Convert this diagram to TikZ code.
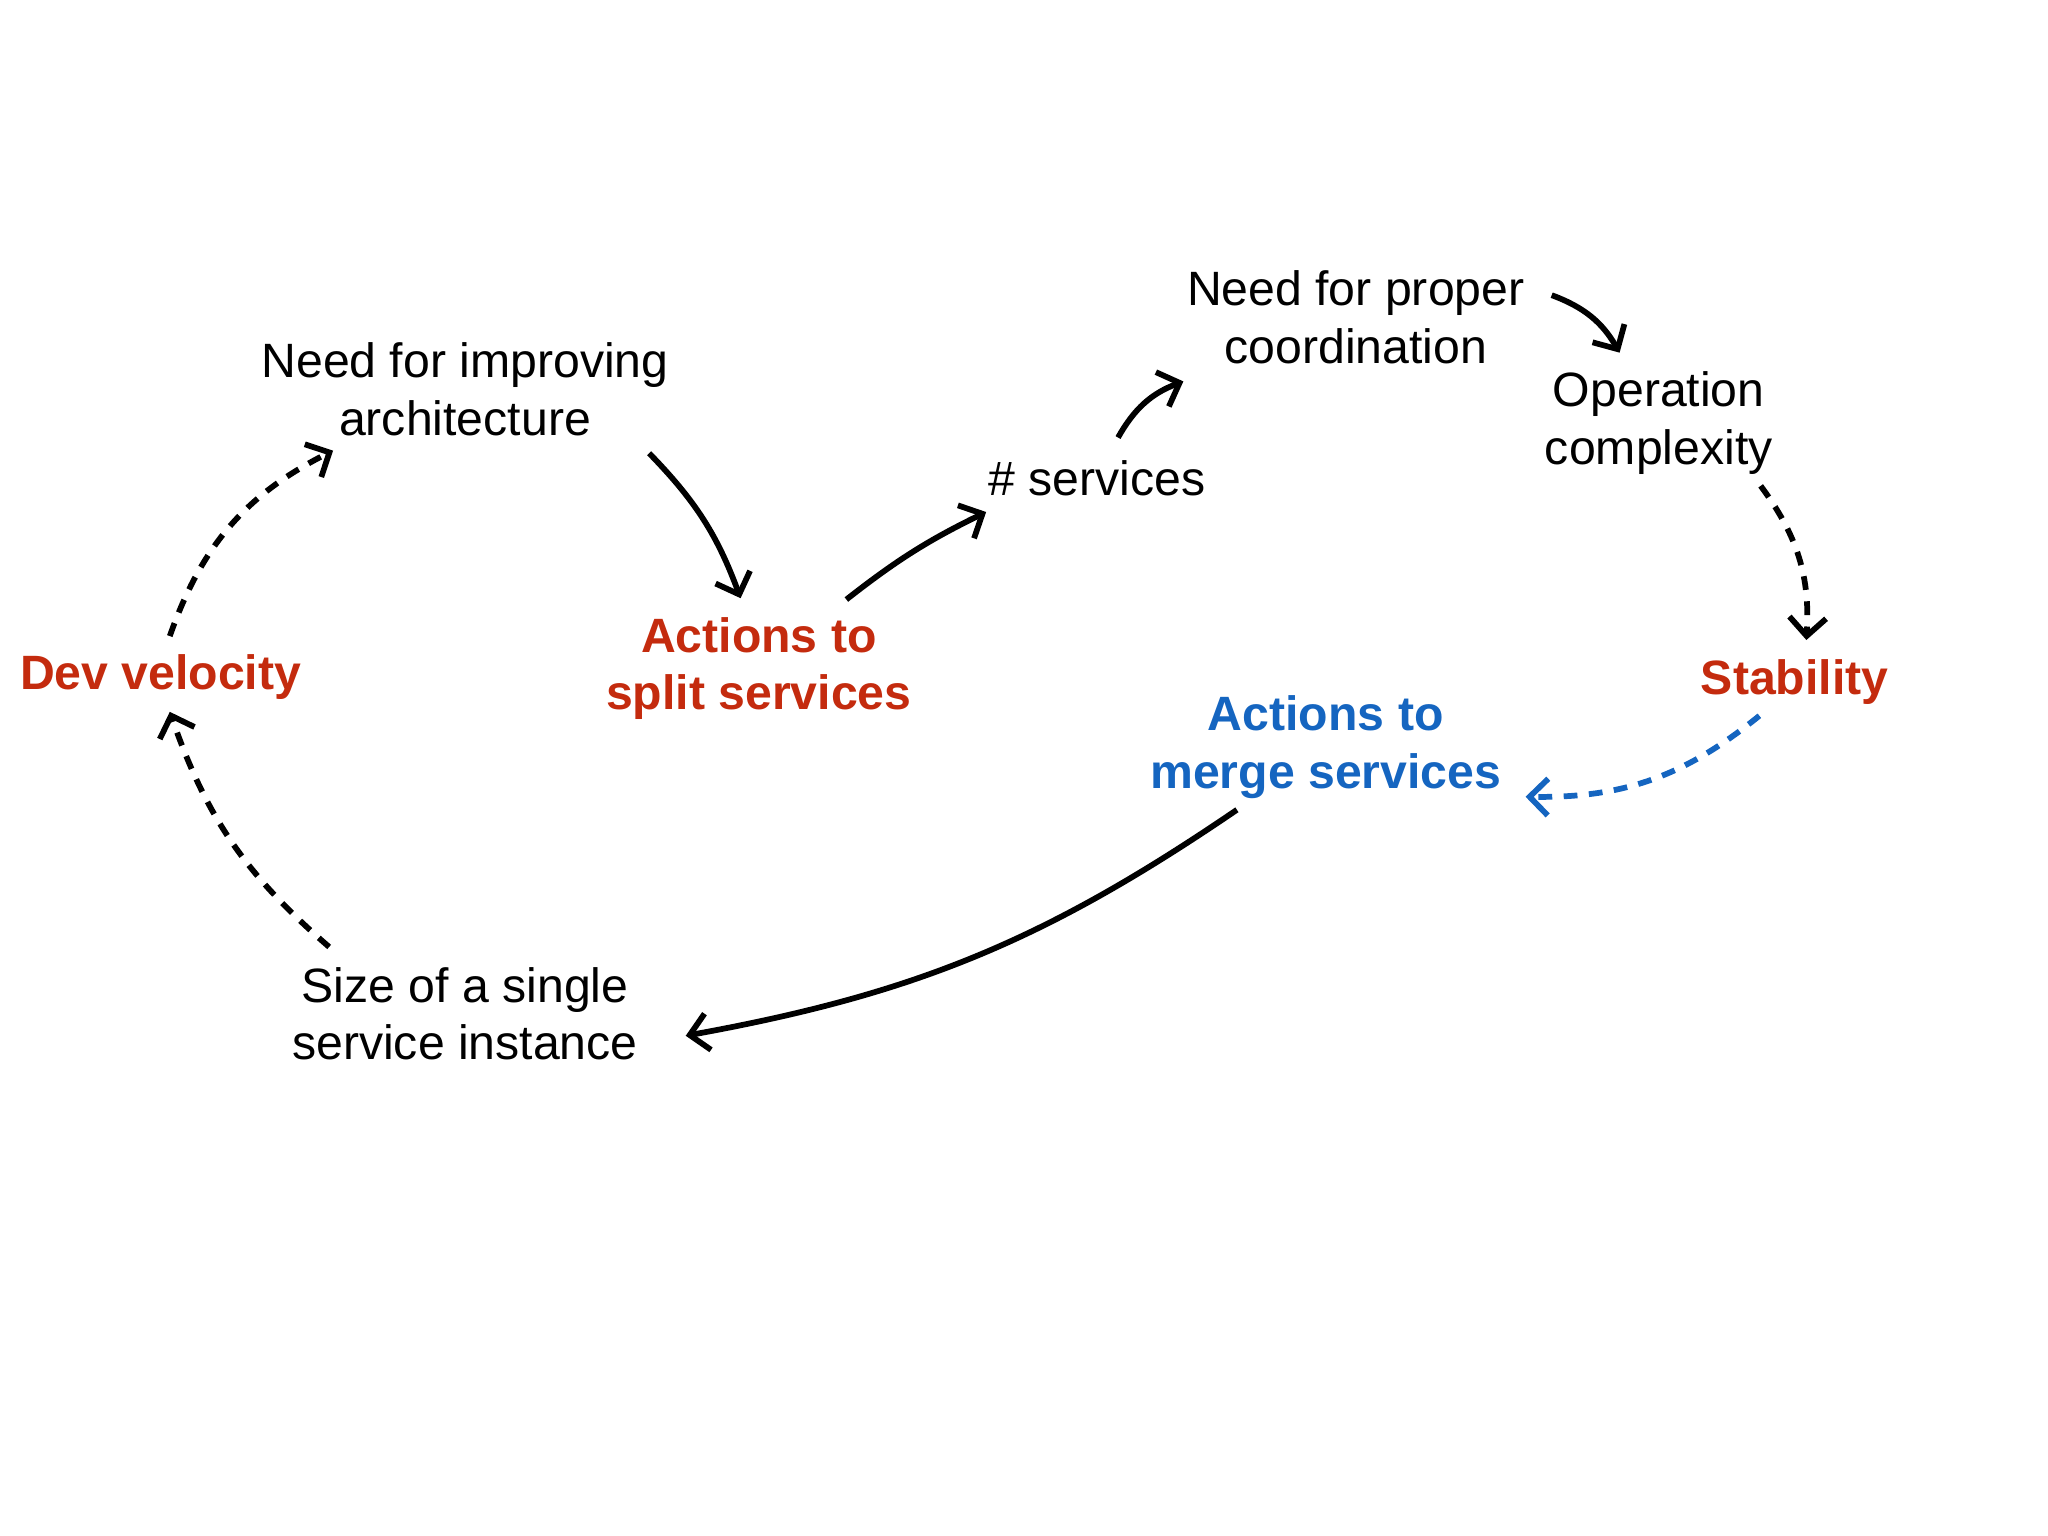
\documentclass[tikz,border=0pt]{standalone}
\usepackage{fontspec}
\setmainfont{Liberation Sans}
\usetikzlibrary{arrows.meta}
\definecolor{rd}{HTML}{C42B0E}
\definecolor{bl}{HTML}{1565C0}
\begin{document}
\begin{tikzpicture}[x=0.02cm,y=-0.02cm,
  txt/.style={align=center,font=\fontsize{21}{25}\selectfont},
  red/.style={txt,text=rd,font=\fontsize{21}{25}\selectfont\bfseries},
  blu/.style={txt,text=bl,font=\fontsize{21}{25}\selectfont\bfseries},
  arr/.style={line width=2.5pt,-{Straight Barb[length=8pt,width=16pt,line width=2.5pt]}},
  dsh/.style={arr,dash pattern=on 6pt off 5pt}]
\useasboundingbox (0,0) rectangle (1568,1176);
\node[txt] (improve) at (356,298) {Need for improving\\architecture};
\node[red] (split) at (581,512) {Actions to\\split services};
\node[txt] (services) at (840,366) {\# services};
\node[txt] (coord) at (1038,243) {Need for proper\\coordination};
\node[txt] (opcx) at (1270,324) {Operation\\complexity};
\node[red] (stab) at (1374,522) {Stability};
\node[blu] (merge) at (1015,572) {Actions to\\merge services};
\node[txt] (size) at (356,776) {Size of a single\\service instance};
\node[red] (dev) at (123,518) {Dev velocity};
\coordinate (a1) at (130,487); \coordinate (a2) at (255,345);
\coordinate (b1) at (497,347); \coordinate (b2) at (567,458);
\coordinate (c1) at (648,459); \coordinate (c2) at (755,392);
\coordinate (d1) at (856,335); \coordinate (d2) at (906,292);
\coordinate (e1) at (1188,226); \coordinate (e2) at (1240,270);
\coordinate (f1) at (1348,372); \coordinate (f2) at (1383,490);
\coordinate (g1) at (1347,548); \coordinate (g2) at (1168,610);
\coordinate (h1) at (947,620); \coordinate (h2) at (525,793);
\coordinate (i1) at (252,725); \coordinate (i2) at (130,545);
\draw[dsh] (a1) to[bend left=22] (a2);
\draw[arr] (b1) to[bend left=12] (b2);
\draw[arr] (c1) to[bend left=6] (c2);
\draw[arr] (d1) to[bend left=20] (d2);
\draw[arr] (e1) to[bend left=20] (e2);
\draw[dsh] (f1) to[bend left=20] (f2);
\draw[dsh,draw=bl] (g1) to[bend left=20] (g2);
\draw[arr] (h1) to[bend left=12] (h2);
\draw[dsh] (i1) to[bend left=15] (i2);
\end{tikzpicture}
\end{document}
